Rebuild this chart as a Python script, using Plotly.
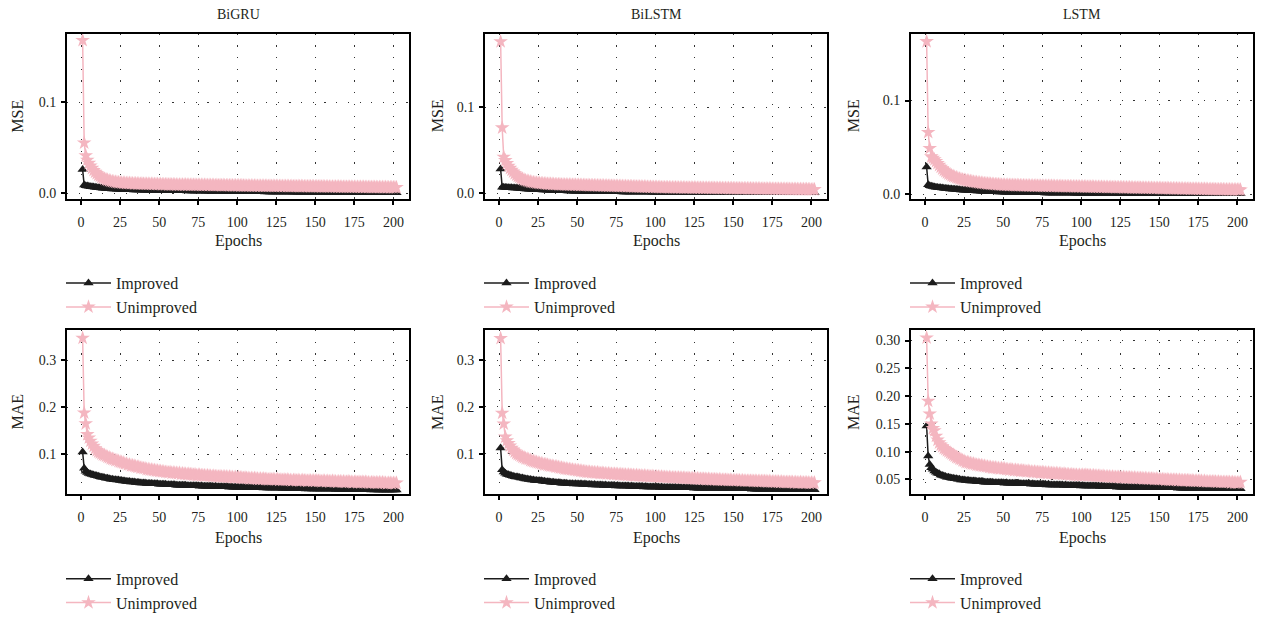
import plotly.graph_objects as go

epochs = list(range(1, 203))

bigru_mse_unimproved = [
    0.1685, 0.0555, 0.0415, 0.0365, 0.0330, 0.0300, 0.0275, 0.0252, 0.0232, 0.0216,
    0.0200, 0.0188, 0.0176, 0.0167, 0.0158, 0.0151, 0.0145, 0.0139, 0.0134, 0.0130,
    0.0127, 0.0123, 0.0121, 0.0118, 0.0117, 0.0114, 0.0113, 0.0112, 0.0110, 0.0109,
    0.0110, 0.0107, 0.0108, 0.0105, 0.0106, 0.0104, 0.0105, 0.0103, 0.0104, 0.0102,
    0.0103, 0.0101, 0.0102, 0.0100, 0.0101, 0.0099, 0.0100, 0.0098, 0.0099, 0.0097,
    0.0098, 0.0096, 0.0097, 0.0095, 0.0097, 0.0094, 0.0096, 0.0094, 0.0095, 0.0093,
    0.0094, 0.0092, 0.0094, 0.0092, 0.0093, 0.0091, 0.0093, 0.0091, 0.0092, 0.0090,
    0.0092, 0.0090, 0.0091, 0.0089, 0.0091, 0.0089, 0.0090, 0.0088, 0.0090, 0.0088,
    0.0089, 0.0087, 0.0089, 0.0087, 0.0088, 0.0086, 0.0088, 0.0086, 0.0087, 0.0085,
    0.0087, 0.0085, 0.0086, 0.0084, 0.0086, 0.0084, 0.0085, 0.0083, 0.0085, 0.0083,
    0.0084, 0.0082, 0.0084, 0.0082, 0.0083, 0.0081, 0.0083, 0.0081, 0.0082, 0.0080,
    0.0082, 0.0080, 0.0081, 0.0079, 0.0081, 0.0079, 0.0080, 0.0079, 0.0080, 0.0078,
    0.0080, 0.0078, 0.0079, 0.0077, 0.0079, 0.0077, 0.0078, 0.0077, 0.0078, 0.0076,
    0.0078, 0.0076, 0.0077, 0.0075, 0.0077, 0.0075, 0.0076, 0.0075, 0.0076, 0.0074,
    0.0076, 0.0074, 0.0075, 0.0073, 0.0075, 0.0073, 0.0074, 0.0073, 0.0074, 0.0072,
    0.0074, 0.0072, 0.0073, 0.0071, 0.0073, 0.0071, 0.0072, 0.0071, 0.0072, 0.0070,
    0.0072, 0.0070, 0.0071, 0.0069, 0.0071, 0.0069, 0.0070, 0.0069, 0.0070, 0.0068,
    0.0070, 0.0068, 0.0069, 0.0067, 0.0069, 0.0067, 0.0068, 0.0067, 0.0068, 0.0066,
    0.0068, 0.0066, 0.0067, 0.0065, 0.0067, 0.0065, 0.0066, 0.0065, 0.0066, 0.0064,
    0.0066, 0.0064, 0.0065, 0.0063, 0.0065, 0.0063, 0.0064, 0.0063, 0.0064, 0.0062,
    0.0064, 0.0063,
]

bigru_mse_improved = [
    0.0260, 0.0090, 0.0082, 0.0078, 0.0075, 0.0072, 0.0070, 0.0067, 0.0065, 0.0063,
    0.0061, 0.0059, 0.0057, 0.0055, 0.0054, 0.0052, 0.0051, 0.0049, 0.0048, 0.0047,
    0.0046, 0.0045, 0.0044, 0.0043, 0.0042, 0.0041, 0.0040, 0.0040, 0.0039, 0.0038,
    0.0038, 0.0037, 0.0037, 0.0036, 0.0036, 0.0035, 0.0035, 0.0034, 0.0034, 0.0033,
    0.0033, 0.0032, 0.0033, 0.0031, 0.0032, 0.0031, 0.0031, 0.0030, 0.0031, 0.0030,
    0.0030, 0.0029, 0.0030, 0.0029, 0.0029, 0.0028, 0.0029, 0.0028, 0.0028, 0.0027,
    0.0028, 0.0027, 0.0027, 0.0026, 0.0027, 0.0026, 0.0026, 0.0025, 0.0026, 0.0025,
    0.0025, 0.0024, 0.0025, 0.0024, 0.0024, 0.0023, 0.0024, 0.0023, 0.0023, 0.0022,
    0.0023, 0.0022, 0.0022, 0.0021, 0.0022, 0.0021, 0.0021, 0.0020, 0.0021, 0.0020,
    0.0020, 0.0020, 0.0019, 0.0020, 0.0019, 0.0019, 0.0018, 0.0019, 0.0018, 0.0018,
    0.0018, 0.0017, 0.0018, 0.0017, 0.0017, 0.0017, 0.0016, 0.0017, 0.0016, 0.0016,
    0.0016, 0.0016, 0.0015, 0.0016, 0.0015, 0.0015, 0.0015, 0.0014, 0.0015, 0.0014,
    0.0014, 0.0014, 0.0014, 0.0013, 0.0014, 0.0013, 0.0013, 0.0013, 0.0013, 0.0012,
    0.0013, 0.0012, 0.0012, 0.0012, 0.0012, 0.0011, 0.0012, 0.0011, 0.0011, 0.0011,
    0.0011, 0.0011, 0.0010, 0.0011, 0.0010, 0.0010, 0.0010, 0.0010, 0.0010, 0.0009,
    0.0010, 0.0009, 0.0009, 0.0009, 0.0009, 0.0009, 0.0009, 0.0008, 0.0009, 0.0008,
    0.0008, 0.0008, 0.0008, 0.0008, 0.0008, 0.0008, 0.0007, 0.0008, 0.0007, 0.0007,
    0.0007, 0.0007, 0.0007, 0.0007, 0.0007, 0.0006, 0.0007, 0.0006, 0.0006, 0.0006,
    0.0006, 0.0006, 0.0006, 0.0006, 0.0006, 0.0006, 0.0005, 0.0006, 0.0005, 0.0005,
    0.0005, 0.0005, 0.0005, 0.0005, 0.0005, 0.0005, 0.0005, 0.0004, 0.0005, 0.0004,
    0.0004, 0.0004,
]

bilstm_mse_unimproved = [
    0.1760, 0.0760, 0.0420, 0.0380, 0.0345, 0.0315, 0.0290, 0.0268, 0.0248, 0.0228,
    0.0210, 0.0196, 0.0184, 0.0173, 0.0164, 0.0156, 0.0149, 0.0143, 0.0138, 0.0133,
    0.0129, 0.0126, 0.0123, 0.0120, 0.0118, 0.0116, 0.0114, 0.0112, 0.0111, 0.0109,
    0.0108, 0.0106, 0.0107, 0.0104, 0.0105, 0.0103, 0.0103, 0.0101, 0.0102, 0.0100,
    0.0100, 0.0098, 0.0099, 0.0097, 0.0098, 0.0096, 0.0097, 0.0095, 0.0096, 0.0094,
    0.0095, 0.0093, 0.0094, 0.0092, 0.0093, 0.0091, 0.0092, 0.0090, 0.0091, 0.0089,
    0.0090, 0.0088, 0.0089, 0.0087, 0.0088, 0.0086, 0.0087, 0.0085, 0.0086, 0.0084,
    0.0085, 0.0083, 0.0084, 0.0082, 0.0083, 0.0081, 0.0082, 0.0080, 0.0081, 0.0079,
    0.0080, 0.0078, 0.0079, 0.0077, 0.0078, 0.0076, 0.0077, 0.0075, 0.0076, 0.0074,
    0.0075, 0.0073, 0.0074, 0.0072, 0.0073, 0.0071, 0.0072, 0.0070, 0.0071, 0.0069,
    0.0070, 0.0068, 0.0069, 0.0067, 0.0068, 0.0067, 0.0068, 0.0066, 0.0067, 0.0065,
    0.0066, 0.0064, 0.0066, 0.0064, 0.0065, 0.0063, 0.0065, 0.0063, 0.0064, 0.0062,
    0.0064, 0.0062, 0.0063, 0.0061, 0.0063, 0.0061, 0.0062, 0.0060, 0.0062, 0.0060,
    0.0061, 0.0059, 0.0061, 0.0059, 0.0060, 0.0058, 0.0060, 0.0058, 0.0059, 0.0057,
    0.0059, 0.0057, 0.0058, 0.0056, 0.0058, 0.0056, 0.0057, 0.0055, 0.0057, 0.0055,
    0.0056, 0.0054, 0.0056, 0.0054, 0.0055, 0.0053, 0.0055, 0.0053, 0.0054, 0.0052,
    0.0054, 0.0052, 0.0053, 0.0051, 0.0053, 0.0051, 0.0052, 0.0050, 0.0052, 0.0050,
    0.0051, 0.0049, 0.0051, 0.0049, 0.0050, 0.0048, 0.0050, 0.0048, 0.0049, 0.0047,
    0.0049, 0.0047, 0.0048, 0.0046, 0.0048, 0.0046, 0.0047, 0.0045, 0.0047, 0.0045,
    0.0046, 0.0044, 0.0046, 0.0044, 0.0045, 0.0043, 0.0045, 0.0043, 0.0044, 0.0042,
    0.0044, 0.0043,
]

bilstm_mse_improved = [
    0.0280, 0.0070, 0.0068, 0.0066, 0.0065, 0.0064, 0.0063, 0.0062, 0.0061, 0.0060,
    0.0059, 0.0057, 0.0056, 0.0054, 0.0053, 0.0051, 0.0050, 0.0048, 0.0047, 0.0046,
    0.0045, 0.0044, 0.0043, 0.0042, 0.0041, 0.0040, 0.0039, 0.0038, 0.0037, 0.0036,
    0.0035, 0.0034, 0.0034, 0.0033, 0.0032, 0.0031, 0.0031, 0.0030, 0.0029, 0.0029,
    0.0028, 0.0027, 0.0027, 0.0026, 0.0026, 0.0025, 0.0025, 0.0024, 0.0024, 0.0023,
    0.0023, 0.0022, 0.0022, 0.0022, 0.0021, 0.0021, 0.0021, 0.0020, 0.0020, 0.0020,
    0.0019, 0.0019, 0.0019, 0.0019, 0.0018, 0.0018, 0.0018, 0.0018, 0.0017, 0.0017,
    0.0017, 0.0017, 0.0017, 0.0016, 0.0016, 0.0016, 0.0016, 0.0016, 0.0015, 0.0015,
    0.0015, 0.0015, 0.0015, 0.0015, 0.0014, 0.0014, 0.0014, 0.0014, 0.0014, 0.0014,
    0.0013, 0.0013, 0.0013, 0.0013, 0.0013, 0.0013, 0.0013, 0.0012, 0.0012, 0.0012,
    0.0012, 0.0012, 0.0012, 0.0012, 0.0012, 0.0011, 0.0011, 0.0011, 0.0011, 0.0011,
    0.0011, 0.0011, 0.0011, 0.0011, 0.0010, 0.0010, 0.0010, 0.0010, 0.0010, 0.0010,
    0.0010, 0.0010, 0.0010, 0.0010, 0.0010, 0.0009, 0.0009, 0.0009, 0.0009, 0.0009,
    0.0009, 0.0009, 0.0009, 0.0009, 0.0009, 0.0009, 0.0009, 0.0008, 0.0008, 0.0008,
    0.0008, 0.0008, 0.0008, 0.0008, 0.0008, 0.0008, 0.0008, 0.0008, 0.0008, 0.0007,
    0.0007, 0.0007, 0.0007, 0.0007, 0.0007, 0.0007, 0.0007, 0.0007, 0.0007, 0.0007,
    0.0007, 0.0007, 0.0006, 0.0006, 0.0006, 0.0006, 0.0006, 0.0006, 0.0006, 0.0006,
    0.0006, 0.0006, 0.0006, 0.0006, 0.0006, 0.0006, 0.0006, 0.0006, 0.0006, 0.0006,
    0.0006, 0.0006, 0.0005, 0.0005, 0.0005, 0.0005, 0.0005, 0.0005, 0.0005, 0.0005,
    0.0005, 0.0005, 0.0005, 0.0005, 0.0005, 0.0005, 0.0005, 0.0005, 0.0005, 0.0005,
    0.0005, 0.0005,
]

lstm_mse_unimproved = [
    0.1630, 0.0660, 0.0490, 0.0400, 0.0385, 0.0370, 0.0350, 0.0330, 0.0310, 0.0290,
    0.0272, 0.0256, 0.0242, 0.0230, 0.0219, 0.0209, 0.0200, 0.0192, 0.0185, 0.0178,
    0.0172, 0.0166, 0.0161, 0.0156, 0.0152, 0.0148, 0.0144, 0.0141, 0.0138, 0.0135,
    0.0132, 0.0129, 0.0127, 0.0124, 0.0122, 0.0120, 0.0118, 0.0116, 0.0114, 0.0112,
    0.0111, 0.0109, 0.0108, 0.0106, 0.0105, 0.0104, 0.0103, 0.0101, 0.0100, 0.0099,
    0.0099, 0.0097, 0.0098, 0.0096, 0.0097, 0.0095, 0.0096, 0.0094, 0.0095, 0.0093,
    0.0094, 0.0092, 0.0093, 0.0091, 0.0092, 0.0090, 0.0091, 0.0089, 0.0090, 0.0088,
    0.0090, 0.0088, 0.0089, 0.0087, 0.0088, 0.0086, 0.0088, 0.0086, 0.0087, 0.0085,
    0.0087, 0.0085, 0.0086, 0.0084, 0.0085, 0.0083, 0.0085, 0.0083, 0.0084, 0.0082,
    0.0084, 0.0082, 0.0083, 0.0081, 0.0082, 0.0080, 0.0082, 0.0080, 0.0081, 0.0079,
    0.0081, 0.0079, 0.0080, 0.0078, 0.0079, 0.0077, 0.0079, 0.0077, 0.0078, 0.0076,
    0.0077, 0.0075, 0.0077, 0.0075, 0.0076, 0.0074, 0.0075, 0.0073, 0.0075, 0.0073,
    0.0074, 0.0072, 0.0073, 0.0071, 0.0073, 0.0071, 0.0072, 0.0070, 0.0071, 0.0069,
    0.0071, 0.0069, 0.0070, 0.0068, 0.0069, 0.0067, 0.0069, 0.0067, 0.0068, 0.0066,
    0.0067, 0.0065, 0.0067, 0.0065, 0.0066, 0.0064, 0.0065, 0.0063, 0.0065, 0.0063,
    0.0064, 0.0062, 0.0063, 0.0061, 0.0063, 0.0061, 0.0062, 0.0060, 0.0061, 0.0059,
    0.0061, 0.0059, 0.0060, 0.0058, 0.0059, 0.0057, 0.0059, 0.0057, 0.0058, 0.0056,
    0.0057, 0.0055, 0.0057, 0.0055, 0.0056, 0.0054, 0.0055, 0.0053, 0.0055, 0.0053,
    0.0054, 0.0052, 0.0053, 0.0051, 0.0053, 0.0051, 0.0052, 0.0050, 0.0052, 0.0050,
    0.0051, 0.0049, 0.0050, 0.0048, 0.0050, 0.0048, 0.0049, 0.0047, 0.0049, 0.0047,
    0.0048, 0.0047,
]

lstm_mse_improved = [
    0.0290, 0.0100, 0.0090, 0.0085, 0.0081, 0.0078, 0.0075, 0.0072, 0.0070, 0.0068,
    0.0066, 0.0064, 0.0062, 0.0060, 0.0058, 0.0056, 0.0055, 0.0053, 0.0052, 0.0050,
    0.0049, 0.0047, 0.0046, 0.0045, 0.0043, 0.0042, 0.0041, 0.0040, 0.0039, 0.0038,
    0.0037, 0.0036, 0.0035, 0.0034, 0.0033, 0.0032, 0.0031, 0.0030, 0.0030, 0.0029,
    0.0028, 0.0027, 0.0027, 0.0026, 0.0025, 0.0025, 0.0024, 0.0024, 0.0023, 0.0023,
    0.0022, 0.0022, 0.0021, 0.0021, 0.0020, 0.0020, 0.0020, 0.0019, 0.0019, 0.0019,
    0.0018, 0.0018, 0.0018, 0.0017, 0.0017, 0.0017, 0.0017, 0.0016, 0.0016, 0.0016,
    0.0016, 0.0015, 0.0015, 0.0015, 0.0015, 0.0015, 0.0014, 0.0014, 0.0014, 0.0014,
    0.0014, 0.0014, 0.0013, 0.0013, 0.0013, 0.0013, 0.0013, 0.0013, 0.0012, 0.0012,
    0.0012, 0.0012, 0.0012, 0.0012, 0.0012, 0.0011, 0.0011, 0.0011, 0.0011, 0.0011,
    0.0011, 0.0011, 0.0011, 0.0010, 0.0010, 0.0010, 0.0010, 0.0010, 0.0010, 0.0010,
    0.0010, 0.0010, 0.0009, 0.0009, 0.0009, 0.0009, 0.0009, 0.0009, 0.0009, 0.0009,
    0.0009, 0.0009, 0.0009, 0.0008, 0.0008, 0.0008, 0.0008, 0.0008, 0.0008, 0.0008,
    0.0008, 0.0008, 0.0008, 0.0008, 0.0008, 0.0008, 0.0008, 0.0008, 0.0008, 0.0008,
    0.0008, 0.0008, 0.0007, 0.0007, 0.0007, 0.0007, 0.0007, 0.0007, 0.0007, 0.0007,
    0.0007, 0.0007, 0.0007, 0.0007, 0.0007, 0.0007, 0.0007, 0.0007, 0.0007, 0.0007,
    0.0007, 0.0007, 0.0007, 0.0007, 0.0006, 0.0006, 0.0006, 0.0006, 0.0006, 0.0006,
    0.0006, 0.0006, 0.0006, 0.0006, 0.0006, 0.0006, 0.0006, 0.0006, 0.0006, 0.0006,
    0.0006, 0.0006, 0.0006, 0.0006, 0.0006, 0.0006, 0.0006, 0.0006, 0.0006, 0.0006,
    0.0006, 0.0006, 0.0005, 0.0005, 0.0005, 0.0005, 0.0005, 0.0005, 0.0005, 0.0005,
    0.0005, 0.0005,
]

bigru_mae_unimproved = [
    0.347, 0.188, 0.165, 0.142, 0.135, 0.128, 0.122, 0.117, 0.112, 0.108,
    0.105, 0.103, 0.101, 0.099, 0.098, 0.096, 0.094, 0.093, 0.091, 0.090,
    0.089, 0.087, 0.087, 0.085, 0.084, 0.083, 0.082, 0.080, 0.080, 0.078,
    0.078, 0.076, 0.076, 0.075, 0.074, 0.073, 0.073, 0.071, 0.071, 0.070,
    0.070, 0.068, 0.068, 0.067, 0.067, 0.066, 0.066, 0.065, 0.065, 0.064,
    0.064, 0.063, 0.063, 0.062, 0.062, 0.061, 0.062, 0.060, 0.061, 0.060,
    0.060, 0.059, 0.060, 0.058, 0.059, 0.058, 0.058, 0.057, 0.058, 0.057,
    0.057, 0.056, 0.057, 0.055, 0.056, 0.056, 0.055, 0.055, 0.055, 0.054,
    0.055, 0.054, 0.054, 0.053, 0.054, 0.053, 0.053, 0.052, 0.053, 0.052,
    0.052, 0.052, 0.052, 0.051, 0.052, 0.051, 0.051, 0.050, 0.051, 0.050,
    0.051, 0.050, 0.050, 0.049, 0.050, 0.049, 0.049, 0.048, 0.049, 0.048,
    0.049, 0.048, 0.048, 0.047, 0.048, 0.047, 0.048, 0.047, 0.047, 0.046,
    0.047, 0.046, 0.047, 0.046, 0.046, 0.047, 0.045, 0.046, 0.045, 0.046,
    0.045, 0.046, 0.045, 0.045, 0.044, 0.045, 0.045, 0.044, 0.045, 0.044,
    0.044, 0.045, 0.044, 0.044, 0.043, 0.044, 0.044, 0.043, 0.044, 0.043,
    0.044, 0.043, 0.043, 0.042, 0.043, 0.043, 0.042, 0.043, 0.042, 0.042,
    0.043, 0.042, 0.042, 0.041, 0.042, 0.042, 0.041, 0.042, 0.041, 0.041,
    0.042, 0.041, 0.041, 0.040, 0.041, 0.041, 0.040, 0.041, 0.040, 0.041,
    0.040, 0.041, 0.040, 0.040, 0.039, 0.040, 0.040, 0.039, 0.040, 0.039,
    0.040, 0.039, 0.040, 0.039, 0.039, 0.038, 0.039, 0.039, 0.038, 0.039,
    0.038, 0.039,
]

bigru_mae_improved = [
    0.105, 0.070, 0.064, 0.061, 0.059, 0.058, 0.057, 0.056, 0.055, 0.054,
    0.053, 0.052, 0.051, 0.051, 0.050, 0.049, 0.049, 0.048, 0.047, 0.047,
    0.046, 0.046, 0.045, 0.045, 0.044, 0.044, 0.043, 0.043, 0.042, 0.042,
    0.042, 0.041, 0.041, 0.041, 0.040, 0.040, 0.040, 0.039, 0.039, 0.039,
    0.039, 0.038, 0.038, 0.038, 0.038, 0.037, 0.037, 0.037, 0.037, 0.036,
    0.036, 0.036, 0.036, 0.036, 0.035, 0.035, 0.035, 0.035, 0.035, 0.035,
    0.034, 0.034, 0.034, 0.034, 0.034, 0.034, 0.034, 0.033, 0.033, 0.033,
    0.033, 0.033, 0.033, 0.033, 0.033, 0.032, 0.033, 0.032, 0.032, 0.032,
    0.032, 0.032, 0.032, 0.032, 0.031, 0.032, 0.031, 0.031, 0.031, 0.031,
    0.031, 0.031, 0.031, 0.031, 0.030, 0.031, 0.030, 0.030, 0.030, 0.030,
    0.030, 0.030, 0.030, 0.030, 0.030, 0.029, 0.030, 0.029, 0.029, 0.029,
    0.029, 0.029, 0.029, 0.029, 0.029, 0.029, 0.028, 0.029, 0.028, 0.028,
    0.028, 0.028, 0.028, 0.028, 0.028, 0.028, 0.028, 0.028, 0.027, 0.028,
    0.027, 0.028, 0.027, 0.027, 0.027, 0.027, 0.027, 0.027, 0.027, 0.027,
    0.027, 0.027, 0.027, 0.026, 0.027, 0.026, 0.027, 0.026, 0.026, 0.026,
    0.026, 0.026, 0.026, 0.026, 0.026, 0.026, 0.026, 0.026, 0.026, 0.026,
    0.026, 0.026, 0.025, 0.026, 0.025, 0.026, 0.025, 0.025, 0.025, 0.025,
    0.025, 0.025, 0.025, 0.025, 0.025, 0.025, 0.025, 0.025, 0.025, 0.025,
    0.025, 0.025, 0.025, 0.025, 0.025, 0.024, 0.025, 0.024, 0.025, 0.024,
    0.024, 0.024, 0.024, 0.024, 0.024, 0.024, 0.024, 0.024, 0.024, 0.024,
    0.024, 0.024,
]

bilstm_mae_unimproved = [
    0.347, 0.187, 0.164, 0.136, 0.128, 0.122, 0.117, 0.112, 0.108, 0.104,
    0.101, 0.099, 0.097, 0.095, 0.093, 0.092, 0.090, 0.089, 0.088, 0.086,
    0.085, 0.084, 0.083, 0.082, 0.081, 0.080, 0.079, 0.078, 0.077, 0.077,
    0.076, 0.075, 0.074, 0.074, 0.073, 0.072, 0.072, 0.071, 0.070, 0.070,
    0.069, 0.068, 0.068, 0.067, 0.067, 0.066, 0.066, 0.065, 0.065, 0.064,
    0.064, 0.063, 0.063, 0.062, 0.062, 0.061, 0.061, 0.061, 0.060, 0.060,
    0.060, 0.059, 0.060, 0.059, 0.058, 0.059, 0.058, 0.058, 0.057, 0.058,
    0.057, 0.057, 0.056, 0.057, 0.056, 0.056, 0.055, 0.056, 0.055, 0.055,
    0.055, 0.054, 0.055, 0.054, 0.054, 0.054, 0.053, 0.054, 0.053, 0.053,
    0.053, 0.052, 0.053, 0.052, 0.052, 0.052, 0.051, 0.052, 0.051, 0.051,
    0.051, 0.051, 0.050, 0.051, 0.050, 0.050, 0.050, 0.049, 0.050, 0.049,
    0.049, 0.049, 0.049, 0.048, 0.049, 0.048, 0.048, 0.048, 0.048, 0.047,
    0.048, 0.047, 0.047, 0.047, 0.047, 0.046, 0.047, 0.046, 0.046, 0.046,
    0.046, 0.046, 0.045, 0.046, 0.045, 0.045, 0.045, 0.045, 0.045, 0.044,
    0.045, 0.044, 0.044, 0.044, 0.044, 0.044, 0.043, 0.044, 0.043, 0.043,
    0.043, 0.043, 0.043, 0.043, 0.042, 0.043, 0.042, 0.042, 0.042, 0.042,
    0.042, 0.042, 0.041, 0.042, 0.041, 0.041, 0.041, 0.041, 0.041, 0.041,
    0.041, 0.040, 0.041, 0.040, 0.040, 0.040, 0.040, 0.040, 0.040, 0.039,
    0.040, 0.039, 0.039, 0.039, 0.039, 0.039, 0.039, 0.039, 0.038, 0.039,
    0.038, 0.038, 0.039, 0.038, 0.038, 0.038, 0.038, 0.038, 0.037, 0.038,
    0.037, 0.038,
]

bilstm_mae_improved = [
    0.112, 0.066, 0.061, 0.058, 0.056, 0.055, 0.054, 0.053, 0.052, 0.051,
    0.050, 0.050, 0.049, 0.048, 0.048, 0.047, 0.046, 0.046, 0.045, 0.045,
    0.044, 0.044, 0.043, 0.043, 0.042, 0.042, 0.042, 0.041, 0.041, 0.040,
    0.040, 0.040, 0.039, 0.039, 0.039, 0.038, 0.038, 0.038, 0.038, 0.037,
    0.037, 0.037, 0.037, 0.036, 0.036, 0.036, 0.036, 0.035, 0.036, 0.035,
    0.035, 0.035, 0.035, 0.034, 0.035, 0.034, 0.034, 0.034, 0.034, 0.033,
    0.034, 0.033, 0.033, 0.033, 0.033, 0.033, 0.032, 0.033, 0.032, 0.032,
    0.032, 0.032, 0.032, 0.032, 0.031, 0.032, 0.031, 0.031, 0.031, 0.031,
    0.031, 0.031, 0.031, 0.030, 0.031, 0.030, 0.030, 0.030, 0.030, 0.030,
    0.030, 0.030, 0.029, 0.030, 0.029, 0.029, 0.029, 0.029, 0.029, 0.029,
    0.029, 0.029, 0.028, 0.029, 0.028, 0.028, 0.028, 0.028, 0.028, 0.028,
    0.028, 0.028, 0.028, 0.027, 0.028, 0.027, 0.027, 0.027, 0.027, 0.027,
    0.027, 0.027, 0.027, 0.027, 0.026, 0.027, 0.026, 0.026, 0.026, 0.026,
    0.026, 0.026, 0.026, 0.026, 0.026, 0.026, 0.026, 0.026, 0.026, 0.026,
    0.026, 0.026, 0.025, 0.026, 0.025, 0.025, 0.025, 0.025, 0.025, 0.025,
    0.025, 0.025, 0.025, 0.025, 0.025, 0.025, 0.025, 0.025, 0.025, 0.025,
    0.025, 0.024, 0.025, 0.024, 0.024, 0.024, 0.024, 0.024, 0.024, 0.024,
    0.024, 0.024, 0.024, 0.024, 0.024, 0.024, 0.024, 0.024, 0.024, 0.024,
    0.024, 0.023, 0.024, 0.023, 0.023, 0.023, 0.023, 0.023, 0.023, 0.023,
    0.023, 0.023, 0.023, 0.023, 0.023, 0.023, 0.023, 0.023, 0.023, 0.023,
    0.023, 0.023,
]

lstm_mae_unimproved = [
    0.305, 0.191, 0.168, 0.150, 0.142, 0.138, 0.128, 0.121, 0.116, 0.112,
    0.109, 0.106, 0.104, 0.102, 0.100, 0.098, 0.096, 0.094, 0.092, 0.090,
    0.089, 0.087, 0.086, 0.084, 0.083, 0.081, 0.081, 0.080, 0.079, 0.078,
    0.078, 0.077, 0.076, 0.076, 0.075, 0.075, 0.074, 0.074, 0.073, 0.073,
    0.072, 0.072, 0.071, 0.071, 0.071, 0.070, 0.070, 0.069, 0.070, 0.069,
    0.069, 0.068, 0.068, 0.067, 0.068, 0.067, 0.066, 0.067, 0.066, 0.066,
    0.065, 0.066, 0.065, 0.065, 0.064, 0.065, 0.064, 0.064, 0.063, 0.064,
    0.063, 0.063, 0.063, 0.062, 0.063, 0.062, 0.062, 0.061, 0.062, 0.061,
    0.061, 0.061, 0.060, 0.061, 0.060, 0.060, 0.060, 0.059, 0.060, 0.059,
    0.059, 0.059, 0.058, 0.059, 0.058, 0.058, 0.058, 0.057, 0.058, 0.057,
    0.058, 0.057, 0.058, 0.057, 0.057, 0.057, 0.056, 0.057, 0.056, 0.056,
    0.056, 0.056, 0.055, 0.056, 0.055, 0.055, 0.055, 0.055, 0.054, 0.055,
    0.054, 0.054, 0.054, 0.054, 0.054, 0.053, 0.054, 0.053, 0.053, 0.053,
    0.053, 0.053, 0.052, 0.053, 0.052, 0.052, 0.052, 0.052, 0.052, 0.051,
    0.052, 0.051, 0.051, 0.051, 0.051, 0.051, 0.050, 0.051, 0.050, 0.050,
    0.050, 0.050, 0.050, 0.049, 0.050, 0.049, 0.049, 0.049, 0.049, 0.049,
    0.049, 0.048, 0.049, 0.048, 0.048, 0.048, 0.048, 0.048, 0.048, 0.047,
    0.048, 0.047, 0.047, 0.047, 0.047, 0.047, 0.047, 0.046, 0.047, 0.046,
    0.046, 0.046, 0.046, 0.046, 0.046, 0.046, 0.045, 0.046, 0.045, 0.045,
    0.045, 0.045, 0.045, 0.045, 0.045, 0.044, 0.045, 0.044, 0.044, 0.044,
    0.044, 0.045,
]

lstm_mae_improved = [
    0.146, 0.092, 0.077, 0.071, 0.068, 0.065, 0.063, 0.061, 0.060, 0.058,
    0.057, 0.056, 0.055, 0.054, 0.054, 0.053, 0.052, 0.052, 0.051, 0.051,
    0.050, 0.050, 0.049, 0.049, 0.049, 0.048, 0.048, 0.048, 0.047, 0.047,
    0.047, 0.047, 0.046, 0.046, 0.046, 0.046, 0.046, 0.045, 0.045, 0.045,
    0.045, 0.045, 0.045, 0.044, 0.044, 0.044, 0.044, 0.044, 0.044, 0.044,
    0.043, 0.044, 0.043, 0.043, 0.043, 0.043, 0.043, 0.043, 0.042, 0.043,
    0.042, 0.042, 0.042, 0.042, 0.042, 0.042, 0.042, 0.041, 0.042, 0.041,
    0.041, 0.041, 0.041, 0.041, 0.041, 0.041, 0.041, 0.040, 0.041, 0.040,
    0.040, 0.040, 0.040, 0.040, 0.040, 0.040, 0.040, 0.040, 0.039, 0.040,
    0.039, 0.039, 0.039, 0.039, 0.039, 0.039, 0.039, 0.039, 0.039, 0.038,
    0.039, 0.038, 0.038, 0.038, 0.038, 0.038, 0.038, 0.038, 0.038, 0.038,
    0.038, 0.037, 0.038, 0.037, 0.037, 0.037, 0.037, 0.037, 0.037, 0.037,
    0.037, 0.037, 0.036, 0.037, 0.036, 0.036, 0.036, 0.036, 0.036, 0.036,
    0.036, 0.036, 0.036, 0.036, 0.036, 0.036, 0.036, 0.036, 0.036, 0.036,
    0.036, 0.035, 0.036, 0.035, 0.035, 0.035, 0.035, 0.035, 0.035, 0.035,
    0.035, 0.035, 0.035, 0.035, 0.035, 0.035, 0.035, 0.035, 0.035, 0.035,
    0.035, 0.034, 0.035, 0.034, 0.034, 0.034, 0.034, 0.034, 0.034, 0.034,
    0.034, 0.034, 0.034, 0.034, 0.034, 0.034, 0.034, 0.034, 0.034, 0.034,
    0.034, 0.033, 0.034, 0.033, 0.033, 0.033, 0.033, 0.033, 0.033, 0.033,
    0.033, 0.033, 0.033, 0.033, 0.033, 0.033, 0.033, 0.033, 0.033, 0.033,
    0.033, 0.033,
]

models = ["BiGRU", "BiLSTM", "LSTM"]
metrics = ["MSE", "MAE"]
series_names = ["Improved", "Unimproved"]
x_ticks = [0, 25, 50, 75, 100, 125, 150, 175, 200]

improved = {
    ("BiGRU", "MSE"): bigru_mse_improved, ("BiLSTM", "MSE"): bilstm_mse_improved,
    ("LSTM", "MSE"): lstm_mse_improved, ("BiGRU", "MAE"): bigru_mae_improved,
    ("BiLSTM", "MAE"): bilstm_mae_improved, ("LSTM", "MAE"): lstm_mae_improved,
}
unimproved = {
    ("BiGRU", "MSE"): bigru_mse_unimproved, ("BiLSTM", "MSE"): bilstm_mse_unimproved,
    ("LSTM", "MSE"): lstm_mse_unimproved, ("BiGRU", "MAE"): bigru_mae_unimproved,
    ("BiLSTM", "MAE"): bilstm_mae_unimproved, ("LSTM", "MAE"): lstm_mae_unimproved,
}

# ---- styling / layout ----
W, H = 1261, 620
FONT = "Liberation Serif"
TXT = "#231f20"
BLACK = "#1c1c1c"
PINK = "#f4b6c0"

col_px = [(67, 409), (485, 827), (911, 1253)]
row_px = [(34.3, 202.3), (336, 503)]
yranges = {
    ("BiGRU", "MSE"): [-0.0061, 0.1758], ("BiLSTM", "MSE"): [-0.0064, 0.1852],
    ("LSTM", "MSE"): [-0.0048, 0.1713], ("BiGRU", "MAE"): [0.0153, 0.364],
    ("BiLSTM", "MAE"): [0.0137, 0.3646], ("LSTM", "MAE"): [0.0235, 0.319],
}
ytickinfo = {
    ("BiGRU", "MSE"): ([0.0, 0.1], ".1f"), ("BiLSTM", "MSE"): ([0.0, 0.1], ".1f"),
    ("LSTM", "MSE"): ([0.0, 0.1], ".1f"), ("BiGRU", "MAE"): ([0.1, 0.2, 0.3], ".1f"),
    ("BiLSTM", "MAE"): ([0.1, 0.2, 0.3], ".1f"),
    ("LSTM", "MAE"): ([0.05, 0.10, 0.15, 0.20, 0.25, 0.30], ".2f"),
}
ylabel_x = {"BiGRU": 17.5, "BiLSTM": 437, "LSTM": 853}

fig = go.Figure()
layout = dict(
    width=W, height=H, margin=dict(l=0, r=0, t=0, b=0),
    paper_bgcolor="white", plot_bgcolor="white", showlegend=True,
    font=dict(family=FONT, size=14, color=TXT),
)
annotations = []

idx = 0
for r, metric in enumerate(metrics):
    for c, model in enumerate(models):
        idx += 1
        key = (model, metric)
        xs = "x" if idx == 1 else f"x{idx}"
        ys = "y" if idx == 1 else f"y{idx}"
        lg = "legend" if idx == 1 else f"legend{idx}"
        x0, x1 = col_px[c]
        y0, y1 = row_px[r]
        grid = dict(showgrid=True, gridcolor="#333333", gridwidth=1.2, griddash="1.2px,10.5px")
        layout["xaxis" if idx == 1 else f"xaxis{idx}"] = dict(
            domain=[x0 / W, x1 / W], anchor=ys, range=[-9, 210],
            tickmode="array", tickvals=x_ticks, ticks="outside", ticklen=4, tickwidth=1.5,
            tickcolor="black", showline=True, linecolor="black", linewidth=2, mirror=True,
            zeroline=False, ticklabelstandoff=5,
            tickfont=dict(family=FONT, size=14, color=TXT), **grid,
        )
        tv, fmt = ytickinfo[key]
        layout["yaxis" if idx == 1 else f"yaxis{idx}"] = dict(
            domain=[1 - y1 / H, 1 - y0 / H], anchor=xs, range=yranges[key],
            tickmode="array", tickvals=tv, tickformat=fmt, ticks="outside", ticklen=4,
            tickwidth=1.5, tickcolor="black", showline=True, linecolor="black",
            linewidth=2, mirror=True, zeroline=False, ticklabelstandoff=2,
            tickfont=dict(family=FONT, size=14, color=TXT), **grid,
        )
        fig.add_trace(go.Scatter(
            x=epochs, y=improved[key], mode="lines+markers", name=series_names[0],
            xaxis=xs, yaxis=ys, legend=lg,
            line=dict(color=BLACK, width=1.5),
            marker=dict(symbol="triangle-up", size=9, color=BLACK),
        ))
        fig.add_trace(go.Scatter(
            x=epochs, y=unimproved[key], mode="lines+markers", name=series_names[1],
            xaxis=xs, yaxis=ys, legend=lg,
            line=dict(color=PINK, width=1.5),
            marker=dict(symbol="star", size=11, color=PINK),
        ))
        leg_top = 271 if r == 0 else 572
        layout[lg] = dict(
            x=(x0 - 6) / W, xanchor="left", y=1 - leg_top / H, yanchor="top",
            bgcolor="rgba(0,0,0,0)", borderwidth=0, tracegroupgap=0,
            font=dict(family=FONT, size=16, color=TXT), itemwidth=45,
        )
        cx = (x0 + x1) / 2
        if r == 0:
            annotations.append(dict(text=model, x=cx / W, y=1 - 15 / H, xref="paper",
                                    yref="paper", showarrow=False, xanchor="center",
                                    yanchor="middle", font=dict(family=FONT, size=14, color=TXT)))
        ey = 245 if r == 0 else 548
        annotations.append(dict(text="Epochs", x=cx / W, y=1 - ey / H, xref="paper",
                                yref="paper", showarrow=False, xanchor="center",
                                yanchor="middle", font=dict(family=FONT, size=16, color=TXT)))
        annotations.append(dict(text=metric, x=ylabel_x[model] / W, y=1 - ((y0 + y1) / 2) / H,
                                xref="paper", yref="paper", showarrow=False, textangle=-90,
                                xanchor="center", yanchor="middle",
                                font=dict(family=FONT, size=16, color=TXT)))

layout["annotations"] = annotations
fig.update_layout(**layout)
fig.write_html("out.html")
